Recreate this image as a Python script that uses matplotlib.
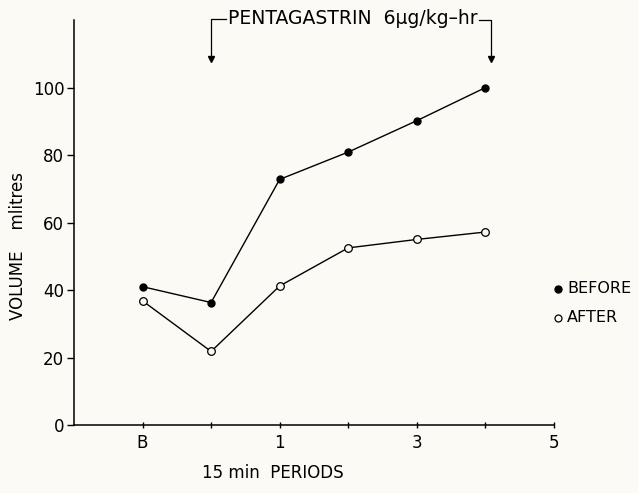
import matplotlib.pyplot as plt
from matplotlib.lines import Line2D

# periods: B = baseline, then 15 min periods 0..4
periods = [-1, 0, 1, 2, 3, 4]
before = [41, 36.3, 72.8, 80.9, 90.2, 100]
after = [36.8, 21.8, 41.2, 52.5, 55.0, 57.2]

tick_pos = [-1, 0, 1, 2, 3, 4, 5]
tick_labels = ['B', '', '1', '', '3', '', '5']
y_ticks = [0, 20, 40, 60, 80, 100]

BG = '#fbfaf4'

fig = plt.figure(figsize=(6.38, 4.93), dpi=100, facecolor=BG)
ax = fig.add_axes([0.116, 0.138, 0.752, 0.821])
ax.set_facecolor(BG)

ax.plot(periods, before, color='black', lw=1.0, marker='o', ms=5,
        mfc='black', mec='black', zorder=3)
ax.plot(periods, after, color='black', lw=1.0, marker='o', ms=5.5,
        mfc=BG, mec='black', mew=0.9, zorder=3)

ax.set_xlim(-2, 5)
ax.set_ylim(0, 120)
ax.set_xticks(tick_pos)
ax.set_xticklabels(tick_labels, fontsize=12)
ax.set_yticks(y_ticks)
ax.set_yticklabels([str(v) for v in y_ticks], fontsize=12)
ax.tick_params(axis='y', direction='out', length=5, width=1, pad=2)
ax.tick_params(axis='x', direction='inout', length=5, width=1, pad=4)

for s in ['top', 'right']:
    ax.spines[s].set_visible(False)
for s in ['left', 'bottom']:
    ax.spines[s].set_linewidth(1.1)

# pentagastrin bracket
x0, x1 = 0, 4.08
ytop, ybot = 120.5, 108.5
label = ax.text(0.24, ytop, 'PENTAGASTRIN  6\u00b5g/kg\u2013hr', fontsize=13.5,
                ha='left', va='center', clip_on=False)
fig.canvas.draw()
bb = label.get_window_extent().transformed(ax.transData.inverted())
x_end = bb.x1 + 0.03

ax.plot([x0, x0, 0.22], [ybot + 1, ytop, ytop], color='black', lw=0.9, clip_on=False)
ax.plot([x_end, x1, x1], [ytop - 0.5, ytop - 0.5, ybot + 1], color='black',
        lw=0.9, clip_on=False)
for xa in (x0, x1):
    ax.plot([xa], [ybot], marker='v', color='black', ms=5, clip_on=False)

# legend
fig.add_artist(Line2D([0.874], [0.414], transform=fig.transFigure, marker='o',
                      ms=5, mfc='black', mec='black', ls=''))
fig.add_artist(Line2D([0.874], [0.355], transform=fig.transFigure, marker='o',
                      ms=5, mfc=BG, mec='black', mew=0.9, ls=''))
fig.text(0.889, 0.414, 'BEFORE', fontsize=11.5, ha='left', va='center')
fig.text(0.889, 0.355, 'AFTER', fontsize=11.5, ha='left', va='center')

fig.text(0.028, 0.502, 'VOLUME    mlitres', fontsize=12, rotation=90,
         ha='center', va='center')
fig.text(0.427, 0.04, '15 min  PERIODS', fontsize=12, ha='center', va='center')

fig.savefig('out.png', dpi=100, facecolor=BG)
